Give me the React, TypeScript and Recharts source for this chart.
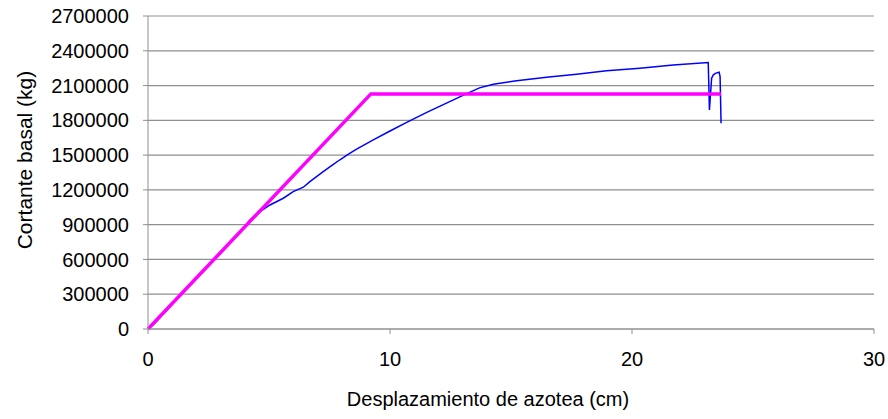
import { LineChart, Line, XAxis, YAxis, CartesianGrid } from 'recharts';

// desplazamiento (cm) vs cortante basal (kg), curva pushover
const pushX = [
  0, 0.3, 1, 2, 3, 4, 4.21, 4.63, 5.04, 5.59, 6.0, 6.42, 6.69, 7.24, 7.6, 7.93, 8.3, 8.62, 9.31,
  10.0, 10.69, 11.52, 12.07, 13.17, 13.7, 14.27, 15.23, 16.47, 17.71, 18.95, 20.33, 21.7, 23.15,
  23.2, 23.29, 23.36, 23.47, 23.6, 23.64, 23.68,
];
const pushY = [
  0, 55000, 215000, 435000, 655000, 880000, 940000, 1012000, 1070000, 1128000, 1185000,
  1223000, 1271000, 1358000, 1412000, 1460000, 1510000, 1551000, 1631000, 1708000, 1782000,
  1868000, 1923000, 2030000, 2080000, 2112000, 2142000, 2172000, 2198000, 2227000, 2250000,
  2278000, 2298000, 1890000, 2163000, 2192000, 2207000, 2215000, 2177000, 1775000,
];

// modelo bilineal
const bilinX = [0, 9.21, 23.68];
const bilinY = [0, 2028000, 2028000];

const xTicks = [0, 10, 20, 30];
const yTicks = [0, 300000, 600000, 900000, 1200000, 1500000, 1800000, 2100000, 2400000, 2700000];

const pushData = pushX.map((x, i) => ({ x, y: pushY[i] }));
const bilinData = bilinX.map((x, i) => ({ x, y: bilinY[i] }));

const font = '"Liberation Sans", Arial, sans-serif';
const gray = '#8f8f8f';

export default function App() {
  return (
    <div style={{ position: 'absolute', left: 0, top: 0, background: '#fff' }}>
      <LineChart width={888} height={419} margin={{ top: 16, right: 14, bottom: 0, left: 0 }}>
        <CartesianGrid vertical={false} stroke={gray} strokeWidth={1.2} />
        <XAxis
          dataKey="x"
          type="number"
          domain={[0, 30]}
          ticks={xTicks}
          height={90}
          stroke={gray}
          tickSize={5}
          tickMargin={18}
          tick={{ fill: '#000', fontSize: 20, fontFamily: font }}
          label={{
            content: () => (
              <text x={488} y={399} textAnchor="middle" dominantBaseline="central" fontSize={20} fontFamily={font} fill="#000">
                Desplazamiento de azotea (cm)
              </text>
            ),
          }}
        />
        <YAxis
          dataKey="y"
          type="number"
          domain={[0, 2700000]}
          ticks={yTicks}
          width={148}
          stroke={gray}
          tickSize={5}
          tickMargin={14}
          interval={0}
          tick={{ fill: '#000', fontSize: 20, fontFamily: font }}
          label={{
            content: () => (
              <text x={24} y={160} transform="rotate(-90 24 160)" textAnchor="middle" dominantBaseline="central" fontSize={21} fontFamily={font} fill="#000">
                Cortante basal (kg)
              </text>
            ),
          }}
        />
        <Line data={pushData} dataKey="y" type="linear" stroke="#0000ff" strokeWidth={1.5} dot={false} isAnimationActive={false} />
        <Line data={bilinData} dataKey="y" type="linear" stroke="#ff00ff" strokeWidth={3.5} dot={false} isAnimationActive={false} />
      </LineChart>
    </div>
  );
}
